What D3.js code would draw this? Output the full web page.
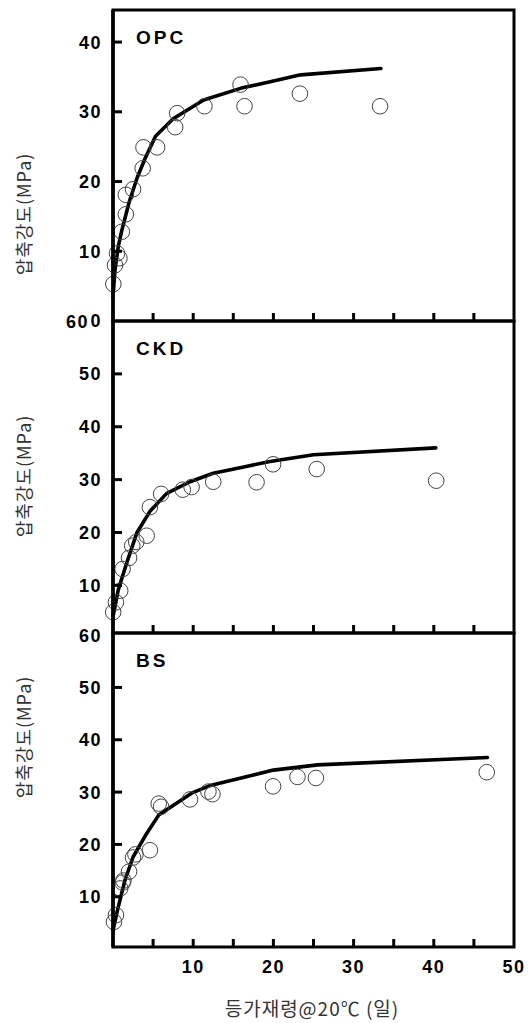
<!DOCTYPE html>
<html><head><meta charset="utf-8">
<script src="https://cdn.jsdelivr.net/npm/d3@7"></script>
<style>
html,body{margin:0;padding:0;background:#fff;}
svg{display:block;}
</style></head>
<body>
<svg id="chart" width="532" height="1023"></svg>
<script>
// ---- data ----
const panelNames = ["OPC", "CKD", "BS"];
const xTickLabels = [10, 20, 30, 40, 50];
const xTickMarks = [5, 10, 15, 20, 25, 30, 35, 40, 45];
const yTickLabels1 = [0, 10, 20, 30, 40];
const yTickLabels2 = [10, 20, 30, 40, 50, 60];
const yTickLabels3 = [10, 20, 30, 40, 50, 60];
const yTitle = "압축강도(MPa)";
const xTitle = "등가재령@20℃ (일)";

const opcPoints = [[0.04,5.3],[0.25,8.0],[0.5,9.7],[0.8,9.0],[1.1,12.8],[1.6,15.3],[1.6,18.1],[2.5,18.9],[3.7,21.9],[3.8,24.9],[5.5,24.9],[7.75,27.8],[8.0,29.8],[11.4,30.8],[15.9,33.9],[16.4,30.8],[23.3,32.6],[33.3,30.8]];
const opcCurve = [[0,3.5],[0.25,7.3],[0.66,10.7],[1.1,13],[2,17],[3,20.5],[4,23.3],[5.3,26.5],[7.5,29],[11.3,31.7],[16,33.4],[19.6,34.3],[23.4,35.3],[33.4,36.2]];

const ckdPoints = [[0.02,4.95],[0.36,6.8],[0.9,9.0],[1.2,13.1],[2.0,15.2],[2.4,17.5],[2.9,18.2],[4.2,19.4],[4.6,24.8],[6.0,27.3],[8.7,28.1],[9.8,28.6],[12.5,29.6],[17.9,29.5],[19.96,32.9],[25.4,32.0],[40.3,29.8]];
const ckdCurve = [[0,4.1],[0.66,9.2],[1.7,14.2],[2.96,19.9],[4.6,24],[6.7,27.4],[9.6,29.6],[12.5,31.2],[16.3,32.4],[19.4,33.4],[25,34.7],[40.25,36.0]];

const bsPoints = [[0.12,5.2],[0.37,6.5],[0.9,11.6],[1.2,12.7],[1.3,13.1],[2.0,14.8],[2.5,17.5],[2.8,18.1],[4.6,18.9],[5.7,27.8],[6.0,27.2],[9.6,28.6],[11.9,30.1],[12.4,29.6],[19.96,31.1],[23.0,32.9],[25.3,32.7],[46.6,33.8]];
const bsCurve = [[0,3.6],[0.66,8.1],[1.5,13.2],[2.5,17.6],[4.2,22.1],[5.7,25.6],[9.8,29.8],[12,31.2],[20,34.2],[25.5,35.2],[46.7,36.6]];

// ---- layout ----
const X0 = 113, X1 = 514;
const layout = [
  {top: 10,  bottom: 321, yDomain: [0, 44.6],  titleY: 214, ticks: yTickLabels1, pts: opcPoints, curve: opcCurve},
  {top: 321, bottom: 633, yDomain: [1.0, 60],  titleY: 476, ticks: yTickLabels2, pts: ckdPoints, curve: ckdCurve},
  {top: 633, bottom: 947, yDomain: [0.4, 60.4], titleY: 737, ticks: yTickLabels3, pts: bsPoints, curve: bsCurve}
];

const svg = d3.select("#chart");
const x = d3.scaleLinear().domain([0, 50]).range([X0, X1]);
const boldFont = "'Liberation Sans', Arial, sans-serif";
const krFont = "'Noto Sans CJK KR', 'Noto Sans', sans-serif";

layout.forEach((p, i) => {
  const y = d3.scaleLinear().domain(p.yDomain).range([p.bottom, p.top]);
  const g = svg.append("g");

  // curve
  g.append("path")
    .datum(p.curve)
    .attr("d", d3.line().x(d => x(d[0])).y(d => y(d[1])))
    .attr("fill", "none").attr("stroke", "#000").attr("stroke-width", 3.6)
    .attr("stroke-linejoin", "round").attr("stroke-linecap", "round");

  // points
  g.selectAll("circle").data(p.pts).join("circle")
    .attr("cx", d => x(d[0])).attr("cy", d => y(d[1])).attr("r", 7.8)
    .attr("fill", "none").attr("stroke", "#444").attr("stroke-width", 1);

  // bottom tick marks (pointing up)
  g.selectAll("line.xt").data(xTickMarks).join("line").attr("class", "xt")
    .attr("x1", d => x(d)).attr("x2", d => x(d))
    .attr("y1", p.bottom).attr("y2", p.bottom - 8)
    .attr("stroke", "#000").attr("stroke-width", 3);

  // left tick marks (pointing right)
  const inner = p.ticks.filter(t => t > p.yDomain[0] + 1 && t < p.yDomain[1] - 1);
  g.selectAll("line.yt").data(inner).join("line").attr("class", "yt")
    .attr("x1", X0).attr("x2", X0 + 9)
    .attr("y1", d => y(d)).attr("y2", d => y(d))
    .attr("stroke", "#000").attr("stroke-width", 3);

  // y tick labels
  g.selectAll("text.yl").data(p.ticks).join("text").attr("class", "yl")
    .attr("x", d => (d === 60 && i === 1) ? 89 : 102)
    .attr("y", d => Math.min(Math.max(y(d), p.top + 1), p.bottom + 3))
    .attr("dy", "0.36em")
    .attr("text-anchor", "end")
    .attr("font-family", boldFont).attr("font-weight", "bold")
    .attr("font-size", 18).attr("letter-spacing", 1.5)
    .text(d => d);

  // frame
  g.append("rect").attr("x", X0).attr("y", p.top)
    .attr("width", X1 - X0).attr("height", p.bottom - p.top)
    .attr("fill", "none").attr("stroke", "#000").attr("stroke-width", 3);
  g.append("line").attr("x1", X0).attr("x2", X0).attr("y1", p.top).attr("y2", p.bottom)
    .attr("stroke", "#000").attr("stroke-width", 3.6);

  // panel name
  g.append("text").attr("x", 136).attr("y", p.top + 34)
    .attr("font-family", boldFont).attr("font-weight", "bold")
    .attr("font-size", 19).attr("letter-spacing", 3)
    .text(panelNames[i]);

  // y title
  g.append("text")
    .attr("transform", `translate(31,${p.titleY}) rotate(-90)`)
    .attr("text-anchor", "middle")
    .attr("font-family", krFont).attr("font-size", 18)
    .attr("fill", "#333").attr("letter-spacing", 1)
    .text(yTitle);
});

// x tick labels
svg.selectAll("text.xl").data(xTickLabels).join("text").attr("class", "xl")
  .attr("x", d => x(d)).attr("y", 973)
  .attr("text-anchor", "middle")
  .attr("font-family", boldFont).attr("font-weight", "bold")
  .attr("font-size", 18).attr("letter-spacing", 1.5)
  .text(d => d);

// x title
svg.append("text").attr("x", 312).attr("y", 1016)
  .attr("text-anchor", "middle")
  .attr("font-family", krFont).attr("font-size", 19)
  .attr("fill", "#333").attr("letter-spacing", 1)
  .text(xTitle);
</script>
</body></html>
